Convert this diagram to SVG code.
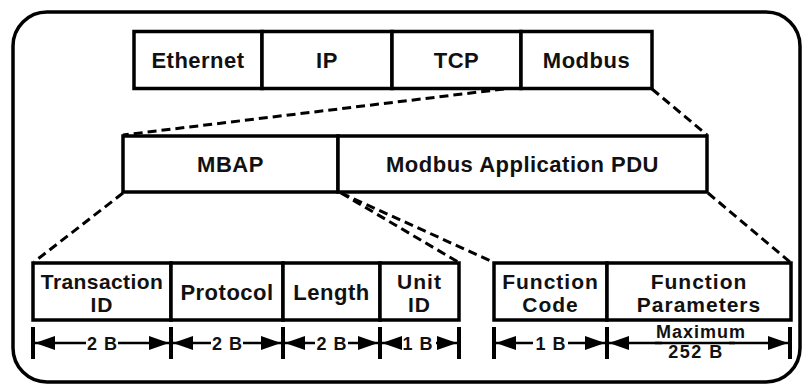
<svg xmlns="http://www.w3.org/2000/svg" width="804" height="385" viewBox="0 0 804 385">
  <style>
    .box { fill: #fff; stroke: #000; stroke-width: 3.5; }
    .lbl { font-family: "Liberation Sans", Arial, sans-serif; font-weight: bold; font-size: 22px; letter-spacing: 0.5px; text-anchor: middle; fill: #111; }
    .two { font-size: 21px; letter-spacing: 1px; }
    .dim { font-family: "Liberation Sans", Arial, sans-serif; font-weight: bold; font-size: 18px; letter-spacing: 1px; text-anchor: middle; fill: #111; }
    .dash { fill: none; stroke: #000; stroke-width: 3; stroke-dasharray: 9 5; }
    .tick { stroke: #000; stroke-width: 4; }
    .arr { stroke: #000; stroke-width: 2.5; fill: none; marker-end: url(#ah); }
  </style>
  <defs>
    <marker id="ah" viewBox="0 0 20 14" refX="20" refY="7" markerWidth="20" markerHeight="14" markerUnits="userSpaceOnUse" orient="auto">
      <path d="M0,0 L20,7 L0,14 Z" fill="#000"/>
    </marker>
  </defs>

  <!-- outer frame -->
  <rect x="13" y="12" width="787" height="370" rx="34" ry="34" fill="#fff" stroke="#000" stroke-width="3.5"/>

  <!-- connectors -->
  <g id="connectors">
    <line class="dash" x1="504" y1="89" x2="123" y2="135"/>
    <line class="dash" x1="652" y1="89" x2="707" y2="135"/>
    <line class="dash" x1="123" y1="193" x2="34" y2="262"/>
    <line class="dash" x1="341" y1="193" x2="458" y2="262"/>
    <line class="dash" x1="341" y1="193" x2="493" y2="262"/>
    <line class="dash" x1="708" y1="193" x2="790" y2="262"/>
  </g>

  <!-- TCP/IP frame -->
  <g id="ethernet"><rect class="box" x="134" y="31.5" width="128" height="57"/><text class="lbl" x="198" y="68">Ethernet</text></g>
  <g id="ip"><rect class="box" x="262" y="31.5" width="130" height="57"/><text class="lbl" x="327" y="68">IP</text></g>
  <g id="tcp"><rect class="box" x="392" y="31.5" width="129" height="57"/><text class="lbl" x="456.5" y="68">TCP</text></g>
  <g id="modbus"><rect class="box" x="521" y="31.5" width="131" height="57"/><text class="lbl" x="586.5" y="68">Modbus</text></g>

  <!-- Modbus TCP ADU -->
  <g id="mbap"><rect class="box" x="123" y="136" width="215" height="56"/><text class="lbl" x="230.5" y="171.5">MBAP</text></g>
  <g id="pdu"><rect class="box" x="338" y="136" width="369" height="56"/><text class="lbl" x="522.5" y="171.5">Modbus Application PDU</text></g>

  <!-- MBAP header fields -->
  <g id="transaction-id"><rect class="box" x="33" y="263" width="138" height="57"/><text class="lbl two" x="102" y="289" style="letter-spacing:0.4px">Transaction</text><text class="lbl two" x="102" y="312">ID</text></g>
  <g id="protocol"><rect class="box" x="171" y="263" width="112" height="57"/><text class="lbl" x="227" y="300">Protocol</text></g>
  <g id="length"><rect class="box" x="283" y="263" width="97" height="57"/><text class="lbl" x="331.5" y="300">Length</text></g>
  <g id="unit-id"><rect class="box" x="380" y="263" width="79" height="57"/><text class="lbl two" x="419.5" y="289">Unit</text><text class="lbl two" x="419.5" y="312">ID</text></g>

  <!-- PDU fields -->
  <g id="function-code"><rect class="box" x="494" y="263" width="113" height="57"/><text class="lbl two" x="550.5" y="289">Function</text><text class="lbl two" x="550.5" y="312">Code</text></g>
  <g id="function-parameters"><rect class="box" x="607" y="263" width="184" height="57"/><text class="lbl two" x="699" y="289">Function</text><text class="lbl two" x="699" y="312">Parameters</text></g>

  <!-- size dimensions -->
  <g id="dimensions">
    <line class="tick" x1="33" y1="327" x2="33" y2="359"/>
    <line class="tick" x1="171" y1="327" x2="171" y2="359"/>
    <line class="tick" x1="283" y1="327" x2="283" y2="359"/>
    <line class="tick" x1="380" y1="327" x2="380" y2="359"/>
    <line class="tick" x1="459" y1="327" x2="459" y2="359"/>
    <line class="tick" x1="494" y1="327" x2="494" y2="359"/>
    <line class="tick" x1="607" y1="327" x2="607" y2="359"/>
    <line class="tick" x1="790" y1="327" x2="790" y2="359"/>

    <line class="arr" x1="86" y1="343" x2="35" y2="343"/>
    <line class="arr" x1="118" y1="343" x2="169" y2="343"/>
    <text class="dim" x="102.5" y="350">2 B</text>

    <line class="arr" x1="211" y1="343" x2="173" y2="343"/>
    <line class="arr" x1="243" y1="343" x2="281" y2="343"/>
    <text class="dim" x="227.5" y="350">2 B</text>

    <line class="arr" x1="315" y1="343" x2="285" y2="343"/>
    <line class="arr" x1="348" y1="343" x2="378" y2="343"/>
    <text class="dim" x="332" y="350">2 B</text>

    <line class="arr" x1="402" y1="343" x2="382" y2="343"/>
    <line class="arr" x1="436" y1="343" x2="457" y2="343"/>
    <text class="dim" x="418" y="350">1 B</text>

    <line class="arr" x1="533" y1="343" x2="496" y2="343"/>
    <line class="arr" x1="568" y1="343" x2="605" y2="343"/>
    <text class="dim" x="551" y="350">1 B</text>

    <line class="arr" x1="662" y1="343" x2="609" y2="343"/>
    <line class="arr" x1="729" y1="343" x2="788" y2="343"/>
    <line x1="655" y1="343" x2="735" y2="343" stroke="#000" stroke-width="2.5"/>
    <text class="dim" x="701" y="338">Maximum</text>
    <text class="dim" x="696" y="358" style="letter-spacing:1.5px">252 B</text>
  </g>
</svg>
